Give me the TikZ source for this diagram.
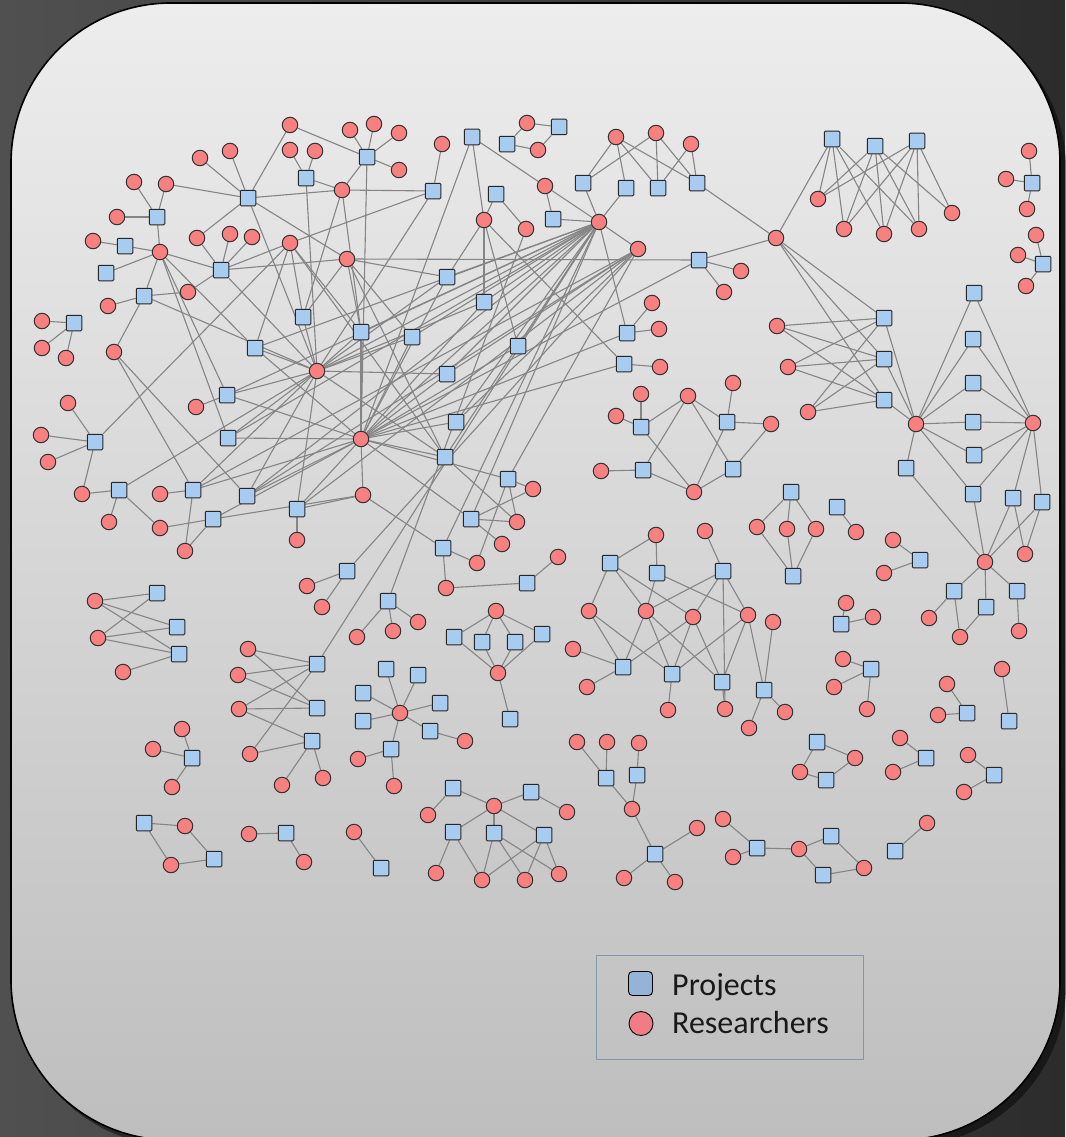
\documentclass[tikz,border=0pt]{standalone}
\usepackage{fontspec}
\setmainfont{Carlito}
\usetikzlibrary{backgrounds}
\definecolor{prjfill}{HTML}{A8CBF0}
\definecolor{resfill}{HTML}{F88080}
\definecolor{edgecol}{HTML}{858585}
\definecolor{outerL}{HTML}{505050}
\definecolor{outerR}{HTML}{2C2C2C}
\definecolor{innerT}{HTML}{EDEDED}
\definecolor{innerB}{HTML}{BEBEBE}
\definecolor{legbord}{HTML}{8497B0}
\definecolor{legprj}{HTML}{95B3D7}
\definecolor{legres}{HTML}{F07C86}
\pgfdeclarelayer{bg}
\pgfdeclarelayer{edges}
\pgfsetlayers{bg,edges,main}
\tikzset{
  prj/.style={rectangle,minimum size=15.5pt,inner sep=0pt,fill=prjfill,draw=black!85,line width=1pt,rounded corners=1pt},
  res/.style={circle,minimum size=15.5pt,inner sep=0pt,fill=resfill,draw=black!80,line width=1pt},
  edge/.style={draw=edgecol,line width=1.1pt},
  legtext/.style={anchor=base west,inner sep=0pt,text=black!90,font=\fontsize{32}{36}\selectfont}
}
\begin{document}
\begin{tikzpicture}[x=1pt,y=-1pt]
\useasboundingbox (0,0) rectangle (1065,1137);
\begin{pgfonlayer}{bg}
\shade[left color=outerL,right color=outerR] (0,0) rectangle (1065,1137);
\fill[black,opacity=0.45,rounded corners=160pt] (16,9) rectangle (1066,1146);
\shade[top color=innerT,bottom color=innerB,rounded corners=160pt] (11,3) rectangle (1060,1140);
\draw[black,line width=1.6pt,rounded corners=160pt] (11,3) rectangle (1060,1140);
\end{pgfonlayer}

% researchers
\foreach \n/\px/\py in {
r1/290/125,r2/350/130,r3/374/124,r4/399/133,r5/399/170,r6/200/158,r7/230/151,r8/290/150,r9/315/151,r10/342/190,
r11/134/182,r12/166/184,r13/117/217,r14/93/241,r15/160/252,r16/197/238,r17/230/234,r18/252/237,r19/290/243,r20/347/259,
r21/188/292,r22/108/306,r23/42/321,r24/42/348,r25/66/358,r26/114/352,r27/317/371,r28/442/144,r29/527/123,r30/538/150,
r31/545/186,r32/484/220,r33/526/229,r34/599/222,r35/638/249,r36/616/137,r37/656/133,r38/691/144,r39/652/303,r40/659/329,
r41/660/367,r42/641/394,r43/741/271,r44/724/292,r45/776/238,r46/818/199,r47/844/229,r48/884/234,r49/919/229,r50/952/213,
r51/1029/151,r52/1006/179,r53/1027/209,r54/1036/235,r55/1018/255,r56/1026/286,r57/777/326,r58/788/367,r59/808/412,r60/916/424,
r61/1033/423,r62/616/416,r63/688/396,r64/733/383,r65/771/424,r66/601/471,r67/694/492,r68/1025/554,r69/985/562,r70/929/618,
r71/960/637,r72/1019/631,r73/757/527,r74/787/529,r75/816/529,r76/856/532,r77/893/540,r78/884/573,r79/846/603,r80/873/617,
r81/843/659,r82/834/687,r83/867/709,r84/947/684,r85/938/715,r86/1002/669,r87/656/535,r88/705/531,r89/589/611,r90/646/611,
r91/693/617,r92/748/615,r93/773/622,r94/587/687,r95/668/710,r96/725/709,r97/785/712,r98/749/728,r99/573/649,r100/68/403,
r101/41/435,r102/48/462,r103/82/494,r104/109/522,r105/160/494,r106/160/528,r107/185/551,r108/196/407,r109/297/540,r110/363/495,
r111/307/586,r112/322/607,r113/95/601,r114/98/638,r115/123/672,r116/533/489,r117/517/522,r118/502/544,r119/477/563,r120/446/588,
r121/558/557,r122/357/637,r123/393/631,r124/418/622,r125/496/611,r126/498/673,r127/248/649,r128/238/675,r129/239/709,r130/250/754,
r131/282/785,r132/323/778,r133/182/729,r134/153/749,r135/172/787,r136/400/713,r137/358/759,r138/394/786,r139/185/826,r140/171/865,
r141/249/834,r142/304/862,r143/354/832,r144/465/741,r145/577/742,r146/607/742,r147/639/743,r148/632/809,r149/697/828,r150/624/878,
r151/675/882,r152/723/819,r153/733/857,r154/799/849,r155/494/806,r156/567/812,r157/428/815,r158/436/873,r159/482/880,r160/525/880,
r161/559/874,r162/855/758,r163/800/772,r164/900/738,r165/893/772,r166/968/755,r167/964/792,r168/864/868,r169/927/823,rH/361/439}
  \node[res] (\n) at (\px,\py) {};

% projects
\foreach \n/\px/\py in {
p1/367/157,p2/306/178,p3/248/198,p4/157/217,p5/125/246,p6/106/273,p7/221/270,p8/144/296,p9/74/323,p10/303/317,
p11/255/348,p12/227/395,p13/361/332,p14/433/191,p15/472/137,p16/559/127,p17/507/144,p18/496/194,p19/553/219,p20/583/183,
p21/626/188,p22/658/188,p23/697/183,p24/447/277,p25/484/302,p26/412/337,p27/518/346,p28/627/333,p29/624/364,p30/447/374,
p31/699/260,p32/832/139,p33/875/146,p34/917/141,p35/1032/183,p36/1043/264,p37/974/293,p38/884/318,p39/973/339,p40/884/359,
p41/973/383,p42/884/400,p43/973/422,p44/641/427,p45/727/422,p46/643/470,p47/733/469,p48/974/455,p49/906/468,p50/973/494,
p51/1013/498,p52/1042/502,p53/954/591,p54/986/607,p55/1017/591,p56/791/492,p57/793/576,p58/837/507,p59/920/560,p60/841/624,
p61/871/669,p62/967/713,p63/1009/721,p64/610/563,p65/657/573,p66/723/571,p67/623/667,p68/672/674,p69/722/682,p70/764/690,
p71/95/442,p72/119/490,p73/193/490,p74/213/519,p75/228/438,p76/247/496,p77/297/509,p78/347/571,p79/157/593,p80/177/627,
p81/179/654,p82/456/422,p83/445/457,p84/508/479,p85/471/519,p86/443/548,p87/527/583,p88/388/601,p89/317/664,p90/386/669,
p91/418/675,p92/454/637,p93/482/642,p94/515/642,p95/542/634,p96/317/708,p97/312/741,p98/192/758,p99/363/693,p100/363/721,
p101/391/749,p102/144/823,p103/214/859,p104/286/833,p105/381/868,p106/510/719,p107/440/703,p108/430/731,p109/606/778,p110/637/775,
p111/655/854,p112/757/848,p113/453/788,p114/531/792,p115/453/832,p116/494/833,p117/544/835,p118/817/742,p119/826/780,p120/926/758,
p121/994/775,p122/831/836,p123/823/875,p124/895/851}
  \node[prj] (\n) at (\px,\py) {};

% connectors
\begin{pgfonlayer}{edges}
\foreach \a/\b in {
p1/r1,p1/r2,p1/r3,p1/r4,p1/r5,p1/r10,p1/rH,
p2/r8,p2/r9,p2/r10,p2/r27,
p3/r1,p3/r6,p3/r7,p3/r10,p3/r12,p3/r16,p3/r20,p3/r27,
p4/r11,p4/r12,p4/r13,p4/r15,p5/r14,p5/r15,p6/r15,
p7/r15,p7/r16,p7/r17,p7/r18,p7/r19,p7/r21,p7/r27,p7/r20,
p8/r15,p8/r21,p8/r22,p8/r26,p8/r27,p9/r23,p9/r24,p9/r25,
r19/p10,r19/p13,r19/p14,r19/p71,r19/p11,r19/p83,
r20/p10,r20/p13,r20/p24,r20/p31,r20/p26,r20/p83,
p10/r27,p10/r10,p11/r15,p11/r27,p11/rH,p12/r108,p12/r15,p12/r27,p12/rH,
p13/r27,p13/rH,p13/r10,p14/r28,p14/r10,p14/r27,p15/r32,p15/r31,p15/rH,
p16/r29,p16/r30,p17/r29,p17/r30,p18/r32,p18/r33,p19/r31,p19/r34,
p20/r34,p20/r36,p20/r37,p21/r34,p21/r36,p22/r36,p22/r37,p22/r38,p23/r36,p23/r37,p23/r38,p23/r45,
p24/r32,p24/r27,p24/rH,p24/r34,p25/r32,p25/r27,p25/rH,p25/r34,p26/r27,p26/rH,p26/r34,
p27/r32,p27/rH,p27/r34,p28/r34,p28/r39,p28/r40,p28/rH,p29/r41,p29/r32,p29/rH,
p30/r27,p30/rH,p30/r34,p30/r35,p31/r43,p31/r44,p31/r45,p31/rH,
p82/rH,p82/r34,p82/r35,p83/rH,p83/r27,p83/r117,p84/rH,p84/r116,p84/r117,p84/r119,p84/r35,
p85/rH,p85/r116,p85/r117,p85/r118,p85/r34,p86/r110,p86/r119,p86/r120,p86/r34,p87/r120,p87/r121,
p88/r122,p88/r123,p88/r124,p88/r33,p89/r34,p78/r111,p78/r112,p78/r35,
p71/r100,p71/r101,p71/r102,p71/r103,p72/r103,p72/r104,p72/r106,p72/r27,
p73/r105,p73/r107,p73/r26,p73/r27,p73/rH,p73/r35,p74/r106,p74/r107,p74/r110,p74/rH,
p75/r15,p75/rH,p75/r27,p75/r34,p76/r26,p76/r27,p76/rH,p76/r35,p76/r34,
p77/r27,p77/rH,p77/r110,p77/r109,p77/r35,
p13/r34,p11/r34,p83/r34,p12/r34,
rH/r110,r34/r35,r34/r31,r34/r27,r34/rH,
r45/p32,r45/p38,r45/p40,r45/p42,
p32/r46,p32/r47,p32/r48,p32/r49,p33/r46,p33/r47,p33/r48,p33/r49,p33/r50,p34/r46,p34/r47,p34/r48,p34/r49,p34/r50,
p35/r51,p35/r52,p35/r53,p36/r54,p36/r55,p36/r56,p37/r60,p37/r61,
p38/r57,p38/r58,p38/r59,p38/r60,p39/r60,p39/r61,p40/r57,p40/r58,p40/r59,p40/r60,p41/r60,p41/r61,
p42/r57,p42/r58,p42/r59,p42/r60,p43/r60,p43/r61,p48/r60,p48/r61,p49/r60,p49/r69,p50/r60,p50/r61,p50/r69,
p51/r61,p51/r69,p51/r68,p52/r61,p52/r69,p52/r68,p53/r69,p53/r70,p53/r71,p54/r69,p54/r71,p55/r69,p55/r72,
p44/r42,p44/r62,p44/r63,p44/r67,p45/r63,p45/r64,p45/r65,p45/r67,p46/r63,p46/r66,p46/r67,p47/r63,p47/r67,p47/r65,
p56/r73,p56/r74,p56/r75,p57/r73,p57/r74,p57/r75,p58/r76,p59/r77,p59/r78,p60/r79,p60/r80,p61/r81,p61/r82,p61/r83,
p62/r84,p62/r85,p63/r86,p64/r87,p64/r89,p64/r90,p64/r91,p65/r87,p65/r90,p65/r92,p66/r88,p66/r90,p66/r91,p66/r92,p66/r96,
p67/r89,p67/r90,p67/r91,p67/r94,p67/r99,p68/r89,p68/r90,p68/r91,p68/r92,p68/r95,p69/r90,p69/r91,p69/r92,p69/r96,
p70/r92,p70/r93,p70/r97,p70/r98,
p79/r113,p79/r114,p80/r113,p80/r114,p81/r113,p81/r114,p81/r115,
p89/r127,p89/r128,p89/r129,p89/r130,p96/r127,p96/r128,p96/r129,p97/r129,p97/r130,p97/r131,p97/r132,
p98/r133,p98/r134,p98/r135,r136/p90,r136/p91,r136/p99,r136/p100,r136/p101,r136/p107,r136/p108,
p101/r137,p101/r138,p108/r144,p102/r139,p102/r140,p103/r139,p103/r140,p104/r141,p104/r142,p105/r143,
r125/p92,r125/p93,r125/p94,r125/p95,r126/p92,r126/p93,r126/p94,r126/p95,r126/p106,
p109/r145,p109/r146,p109/r148,p110/r147,p110/r148,p111/r148,p111/r149,p111/r150,p111/r151,
p112/r152,p112/r153,p112/r154,p113/r155,p113/r157,p114/r155,p114/r156,p115/r155,p115/r158,p115/r159,
p116/r155,p116/r159,p116/r160,p116/r161,p117/r155,p117/r159,p117/r160,p117/r161,
p118/r162,p118/r163,p119/r162,p119/r163,p120/r164,p120/r165,p121/r166,p121/r167,
p122/r154,p122/r168,p123/r154,p123/r168,p124/r169}
  \draw[edge] (\a) -- (\b);
\end{pgfonlayer}

% legend
\node[draw=legbord,line width=0.9pt,minimum width=267pt,minimum height=104pt,inner sep=0pt] (legend) at (729.5,1007) {};
\node[rectangle,minimum size=24pt,inner sep=0pt,fill=legprj,draw=black,line width=0.9pt,rounded corners=4pt] (legP) at (640.5,983.5) {};
\node[circle,minimum size=24pt,inner sep=0pt,fill=legres,draw=black,line width=0.9pt] (legR) at (641,1023.5) {};
\node[legtext] (legPt) at (672,995) {Projects};
\node[legtext] (legRt) at (672,1033) {Researchers};
\end{tikzpicture}
\end{document}
